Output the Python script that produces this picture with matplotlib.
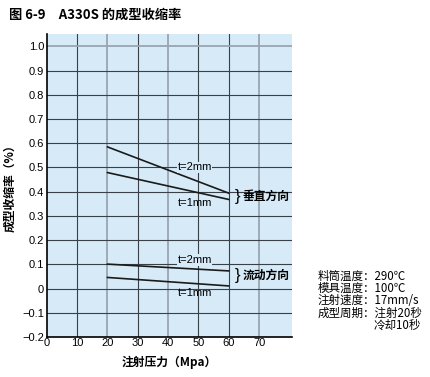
import matplotlib
matplotlib.use("Agg")
import matplotlib.pyplot as plt

plt.rcParams['font.family'] = ['Noto Sans CJK SC', 'DejaVu Sans']

pressure = [20, 60]
perp_2mm = [0.585, 0.394]
perp_1mm = [0.479, 0.368]
flow_2mm = [0.101, 0.073]
flow_1mm = [0.046, 0.011]

xticks = [0, 10, 20, 30, 40, 50, 60, 70]
yticks = [-0.2, -0.1, 0, 0.1, 0.2, 0.3, 0.4, 0.5, 0.6, 0.7, 0.8, 0.9, 1.0]
ytick_labels = ["\u22120.2", "\u22120.1", "0", "0.1", "0.2", "0.3", "0.4", "0.5",
                "0.6", "0.7", "0.8", "0.9", "1.0"]
gray_x = [20, 40, 70]
gray_y = [1.0]

bg = '#d6eaf8'
fig = plt.figure(figsize=(4.3, 3.77), dpi=100)
ax = fig.add_axes([0.109, 0.106, 0.571, 0.805])
ax.set_facecolor(bg)
ax.set_xlim(0, 81)
ax.set_ylim(-0.2, 1.053)

for x in xticks[1:]:
    if x in gray_x:
        ax.axvline(x, color='#9aa5b0', lw=1.3, zorder=1)
    else:
        ax.axvline(x, color='#3a4048', lw=0.8, zorder=1)
for y in yticks[1:]:
    if y in gray_y:
        ax.axhline(y, color='#9aa5b0', lw=1.3, zorder=1)
    else:
        ax.axhline(y, color='#3a4048', lw=0.8, zorder=1)

for s in ['top', 'right']:
    ax.spines[s].set_visible(False)
for s in ['left', 'bottom']:
    ax.spines[s].set_color('black')
    ax.spines[s].set_linewidth(1.2)

tick_font = ['Liberation Sans', 'DejaVu Sans']
ax.set_xticks(xticks)
ax.set_xticklabels([str(v) for v in xticks], family=tick_font, fontsize=8)
ax.set_yticks(yticks)
ax.set_yticklabels(ytick_labels, family=tick_font, fontsize=8)
ax.tick_params(length=0, pad=2)
ax.tick_params(axis='x', pad=1)

lc = '#1a1a1a'
for ys in [perp_2mm, perp_1mm, flow_2mm, flow_1mm]:
    ax.plot(pressure, ys, color=lc, lw=1.2, zorder=3)

tb = dict(facecolor=bg, edgecolor='none', pad=0.5)
lf = ['Liberation Sans', 'DejaVu Sans']
ax.text(48.7, 0.50, "t=2mm", fontsize=8, family=lf, ha='center', va='center', bbox=tb, zorder=4)
ax.text(48.7, 0.355, "t=1mm", fontsize=8, family=lf, ha='center', va='center', zorder=4)
ax.text(48.7, 0.118, "t=2mm", fontsize=8, family=lf, ha='center', va='center', bbox=tb, zorder=4)
ax.text(48.7, -0.02, "t=1mm", fontsize=8, family=lf, ha='center', va='center', zorder=4)

ax.text(62.0, 0.38, "}", fontsize=12, family=lf, ha='left', va='center', zorder=4)
ax.text(64.5, 0.38, "垂直方向", fontsize=8.5, ha='left', va='center', fontweight='bold', zorder=4)
ax.text(62.0, 0.053, "}", fontsize=12, family=lf, ha='left', va='center', zorder=4)
ax.text(64.5, 0.053, "流动方向", fontsize=8.5, ha='left', va='center', fontweight='bold', zorder=4)

ax.set_ylabel("成型收缩率（%）", fontsize=8.5, fontweight='bold', labelpad=4)
ax.set_xlabel("注射压力（Mpa）", fontsize=8.5, fontweight='bold', labelpad=5)

fig.text(0.02, 0.962, "图 6-9　A330S 的成型收缩率", fontsize=9.5, fontweight='bold',
         ha='left', va='center')

info = ["料筒温度：290℃", "模具温度：100℃", "注射速度：17mm/s", "成型周期：注射20秒"]
for i, t in enumerate(info):
    fig.text(0.738, (377 - 276 - 12.3 * i) / 377, t, fontsize=8.3,
             ha='left', va='center')
fig.text(0.868, (377 - 276 - 12.3 * 4) / 377, "冷却10秒", fontsize=8.3,
         ha='left', va='center')

fig.savefig("out.png", dpi=100)
